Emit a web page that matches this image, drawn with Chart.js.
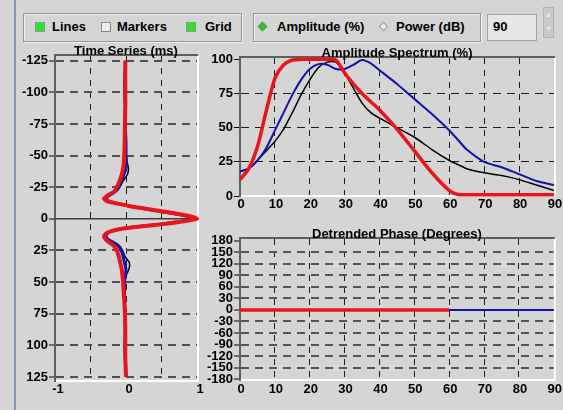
<!DOCTYPE html>
<html>
<head>
<meta charset="utf-8">
<script src="https://cdn.jsdelivr.net/npm/chart.js@4/dist/chart.umd.min.js"></script>
<style>
  body { margin:0; width:563px; height:410px; background:#d5d5d5; position:relative; overflow:hidden;
         font-family:"Liberation Sans", Arial, sans-serif; font-weight:bold; font-size:13px; color:#000; }
  .edge { position:absolute; left:14px; top:0; width:2px; height:410px; background:#8a96aa; }
  .group { position:absolute; top:13px; height:29px; box-sizing:border-box; border:1px solid #979797;
           box-shadow: inset 1px 1px 0 #f2f2f2, 1px 1px 0 #f2f2f2; }
  .lbl { position:absolute; top:19px; line-height:15px; white-space:nowrap; }
  .chk { position:absolute; top:22px; width:10px; height:10px; box-sizing:border-box; border:1px solid #8c8c8c; background:#ececec; }
  .chk.on { background:#2fe02f; border-color:#7aa27a; }
  .dia { position:absolute; top:23px; width:7px; height:7px; transform:rotate(45deg); box-sizing:border-box;
         border:1px solid #9a9a9a; background:#ececec; }
  .dia.on { background:#2fc02f; border-color:#5f9a5f; }
  .spin { position:absolute; left:487px; top:14px; width:50px; height:27px; box-sizing:border-box;
          background:#e6e6e6; border:1px solid #a4a4a4; }
  .arrows { position:absolute; left:543px; top:7px; width:11px; height:31px; box-sizing:border-box;
            background:#c9c9c9; border:1px solid #b4b4b4; color:#e8e8e8; font-size:7px; line-height:14px; text-align:center; }
  canvas { position:absolute; }
</style>
</head>
<body>
<div class="edge"></div>

<div class="group" style="left:23px;width:219px"></div>
<div class="chk on" style="left:35px"></div><span class="lbl" style="left:52px">Lines</span>
<div class="chk" style="left:101px"></div><span class="lbl" style="left:117px">Markers</span>
<div class="chk on" style="left:186px"></div><span class="lbl" style="left:205px">Grid</span>

<div class="group" style="left:253px;width:228px"></div>
<div class="dia on" style="left:259px"></div><span class="lbl" style="left:277px">Amplitude (%)</span>
<div class="dia" style="left:380px"></div><span class="lbl" style="left:396px">Power (dB)</span>

<div class="spin"></div><span class="lbl" style="left:493px">90</span>
<div class="arrows">&#9650;<br>&#9660;</div>

<canvas id="timeSeries" width="200" height="370" style="left:16px;top:40px"></canvas>
<canvas id="ampSpectrum" width="363" height="180" style="left:200px;top:40px"></canvas>
<canvas id="phase" width="363" height="190" style="left:200px;top:220px"></canvas>

<script>
// time series (ms) and wavelet amplitudes
const tsTime = [-125, -110, -100, -90, -75, -60, -50, -45, -40, -35, -30, -25, -22, -20, -18, -16, -14, -12, -10, -8,
    -6, -4, -2, 0, 2, 4, 6, 8, 10, 12, 14, 16, 18, 20, 22, 25, 30, 35, 40, 45, 50, 60, 75, 90, 100, 110, 125];
const tsRed = [-0.01, -0.01, -0.01, -0.01, -0.015, -0.02, -0.025, -0.03, -0.04, -0.06, -0.09, -0.13, -0.16, -0.21, -0.27,
    -0.31, -0.27, -0.12, 0.06, 0.28, 0.5, 0.72, 0.9, 1.0, 0.82, 0.55, 0.2, -0.08, -0.22, -0.29, -0.31, -0.29, -0.25, -0.2,
    -0.16, -0.13, -0.1, -0.08, -0.06, -0.05, -0.04, -0.03, -0.015, -0.01, -0.01, -0.01, 0];
const tsBlue = [-0.005, -0.02, -0.02, -0.01, -0.01, 0, 0, 0.005, 0, -0.03, -0.06, -0.1, -0.14, -0.19, -0.25,
    -0.28, -0.25, -0.11, 0.05, 0.26, 0.47, 0.68, 0.86, 0.95, 0.79, 0.52, 0.18, -0.09, -0.21, -0.27, -0.28, -0.26, -0.2, -0.14,
    -0.1, -0.07, -0.04, -0.02, 0, -0.01, -0.02, -0.02, -0.015, -0.01, -0.02, -0.01, 0];
const tsBlack = [0, -0.005, -0.01, -0.01, -0.005, 0, 0.005, 0.015, 0.035, 0.02, -0.04, -0.09, -0.13, -0.18, -0.24,
    -0.27, -0.24, -0.1, 0.05, 0.25, 0.46, 0.67, 0.85, 0.94, 0.78, 0.51, 0.17, -0.1, -0.22, -0.27, -0.28, -0.25, -0.18, -0.12,
    -0.08, -0.05, -0.01, 0.05, 0.04, 0, -0.02, -0.02, -0.01, -0.01, -0.01, -0.005, 0];

// amplitude spectrum (%)
const specFreq = [0, 2.5, 5, 7.5, 10, 12.5, 15, 17.5, 20, 22.5, 25, 27.5, 30, 32.5, 35, 37.5, 40, 45, 50, 55, 60, 62.5, 65, 70, 75, 80, 85, 90];
const specRed = [12, 20, 36, 62, 86, 96, 99.5, 100, 100, 100, 100, 99.5, 90, 82, 75, 69, 63, 49, 33, 17, 4, 1, 1, 1, 1, 1, 1, 1];
const specBlue = [18, 20, 26, 35, 48, 61, 74, 85, 93, 96.5, 96, 93, 93, 96, 99.5, 97, 92, 82, 71, 60, 48, 41, 34, 25, 21, 16, 11, 8];
const specBlack = [18, 20, 26, 33, 40, 49, 61, 74, 85, 94, 98, 98, 90, 79, 68, 61, 57, 50, 43, 34, 26, 23, 20, 17, 15, 12, 8, 4];

// detrended phase (degrees)
const phaseFreq = [0, 10, 20, 30, 40, 50, 60, 70, 80, 90];
const phaseRed = [0, 0, 0, 0, 0, 0, 0, null, null, null];
const phaseBlue = [0, 0, 0, 0, 0, 0, 0, 0, 0, 0];
const phaseBlack = [0, 0, 0, 0, 0, 0, 0, 0, 0, 0];

// tick values
const tsTimeTicks = [-125, -100, -75, -50, -25, 0, 25, 50, 75, 100, 125];
const tsAmpTicks = [-1, -0.5, 0, 0.5, 1];
const tsAmpLabels = ['-1', '', '0', '', '1'];
const freqTicks = [0, 10, 20, 30, 40, 50, 60, 70, 80, 90];
const specTicks = [0, 25, 50, 75, 100];
const phaseTicks = [-180, -150, -120, -90, -60, -30, 0, 30, 60, 90, 120, 150, 180];

const RED = '#e8161b', BLUE = '#1212b0', BLACK = '#000000';

Chart.defaults.font.family = '"Liberation Sans", Arial, sans-serif';
Chart.defaults.font.size = 13;
Chart.defaults.font.weight = 'bold';
Chart.defaults.color = '#000';
Chart.defaults.animation = false;
Chart.defaults.plugins.legend.display = false;
Chart.defaults.plugins.tooltip.enabled = false;

// frame round the plot area plus the panel title sitting on its top edge
const panelFrame = {
    id: 'panelFrame',
    beforeDatasetsDraw(chart) {
        const {ctx, chartArea: a} = chart;
        ctx.save();
        ctx.lineWidth = 2;
        ctx.strokeStyle = '#5e5e5e';
        ctx.beginPath(); ctx.moveTo(a.left - 1, a.top - 1); ctx.lineTo(a.right + 1, a.top - 1); ctx.stroke();
        ctx.strokeStyle = '#ffffff';
        ctx.beginPath(); ctx.moveTo(a.right + 1, a.top); ctx.lineTo(a.right + 1, a.bottom + 1); ctx.stroke();
        ctx.restore();
    },
    afterDraw(chart, args, opts) {
        const {ctx, chartArea: a} = chart;
        ctx.save();
        ctx.font = 'bold 13px "Liberation Sans", Arial, sans-serif';
        ctx.fillStyle = '#000';
        ctx.textAlign = 'center';
        ctx.textBaseline = 'alphabetic';
        ctx.fillText(opts.text, (a.left + a.right) / 2, a.top - 1);
        ctx.restore();
    }
};

function useTicks(values) {
    return function (scale) { scale.ticks = values.map(function (v) { return {value: v}; }); };
}

function inner(lo, hi, color) {
    return function (c) { return (c.tick && c.tick.value > lo && c.tick.value < hi) ? color : 'rgba(0,0,0,0)'; };
}

function line(xs, ys, color, width) {
    return {
        data: xs.map(function (x, i) { return {x: x, y: ys[i]}; }),
        borderColor: color, borderWidth: width, showLine: true,
        pointRadius: 0, tension: 0.25, clip: 4,
    };
}

// wavelet is drawn sideways: amplitude along x, time down the page
function wavelet(amps, color, width) {
    return {
        data: tsTime.map(function (t, i) { return {x: amps[i], y: t}; }),
        borderColor: color, borderWidth: width, showLine: true,
        pointRadius: 0, tension: 0.2, clip: 4,
    };
}

function xAxis(min, max, ticks, height, labels, offset, pad) {
    return {
        type: 'linear', min: min, max: max,
        afterBuildTicks: useTicks(ticks),
        afterFit: function (s) { s.height = height; },
        grid: { color: inner(min, max, '#1c1c1c'), lineWidth: 1, drawTicks: false },
        border: { color: '#ffffff', width: 2, dash: [6, 6] },
        ticks: {
            padding: pad, labelOffset: offset, autoSkip: false, maxRotation: 0,
            callback: function (v, i) { return labels ? labels[i] : String(v); },
        },
    };
}

function yAxis(min, max, ticks, width, reverse) {
    return {
        type: 'linear', min: min, max: max, reverse: !!reverse,
        afterBuildTicks: useTicks(ticks),
        afterFit: function (s) { s.width = width; },
        grid: { color: inner(Math.max(min, -179), Math.min(max, 179) === 179 ? 179 : 99.9, '#4e4e4e'), lineWidth: 1.5,
                drawTicks: true, tickLength: 6, tickColor: '#000', tickWidth: 1 },
        border: { color: '#606060', width: 2, dash: [8, 6] },
        ticks: { padding: 1, autoSkip: false, callback: function (v) { return String(v); } },
    };
}

// time series panel
const tsY = yAxis(-128.7, 128.2, tsTimeTicks, 39, true);
tsY.grid.color = function (c) { return (c.tick && c.tick.value !== 0) ? '#505050' : 'rgba(0,0,0,0)'; };
tsY.grid.lineWidth = 2;
new Chart(document.getElementById('timeSeries'), {
    type: 'scatter',
    data: {
        datasets: [
            wavelet(tsRed, RED, 4),
            wavelet(tsBlue, BLUE, 3),
            wavelet(tsBlack, BLACK, 1.5),
            // zero-time axis line
            { data: [{x: tsAmpTicks[0], y: 0}, {x: tsAmpTicks[tsAmpTicks.length - 1], y: 0}],
              borderColor: '#3c3c3c', borderWidth: 1.5, showLine: true, pointRadius: 0 },
        ]
    },
    options: {
        responsive: false,
        layout: { padding: { top: 16, right: 19, left: 0, bottom: 0 } },
        scales: {
            x: xAxis(-1, 1, tsAmpTicks, 29, tsAmpLabels, 3, 1),
            y: tsY,
        },
        plugins: { panelFrame: { text: 'Time Series (ms)' } },
    },
    plugins: [panelFrame],
});

// amplitude spectrum panel
const specY = yAxis(0, 101, specTicks, 40, false);
specY.grid.color = inner(0, 100, '#1c1c1c');
specY.grid.lineWidth = 1;
new Chart(document.getElementById('ampSpectrum'), {
    type: 'scatter',
    data: {
        datasets: [
            line(specFreq, specRed, RED, 3.5),
            line(specFreq, specBlue, BLUE, 2),
            line(specFreq, specBlack, BLACK, 1.5),
        ]
    },
    options: {
        responsive: false,
        layout: { padding: { top: 18, right: 9, left: 0, bottom: 0 } },
        scales: {
            x: xAxis(0, 90, freqTicks, 24, null, 1, 1),
            y: specY,
        },
        plugins: { panelFrame: { text: 'Amplitude Spectrum (%)' } },
    },
    plugins: [panelFrame],
});

// detrended phase panel
const phaseY = yAxis(-182, 184, phaseTicks, 40, false);
phaseY.grid.color = inner(-180, 180, '#555555');
phaseY.grid.lineWidth = 2;
new Chart(document.getElementById('phase'), {
    type: 'scatter',
    data: {
        datasets: [
            line(phaseFreq, phaseRed, RED, 3.5),
            line(phaseFreq, phaseBlue, BLUE, 2),
            line(phaseFreq, phaseBlack, BLACK, 1.5),
        ]
    },
    options: {
        responsive: false,
        layout: { padding: { top: 19, right: 9, left: 0, bottom: 0 } },
        scales: {
            x: xAxis(0, 90, freqTicks, 30, null, 1, 2),
            y: phaseY,
        },
        plugins: { panelFrame: { text: 'Detrended Phase (Degrees)' } },
    },
    plugins: [panelFrame],
});
</script>
</body>
</html>
